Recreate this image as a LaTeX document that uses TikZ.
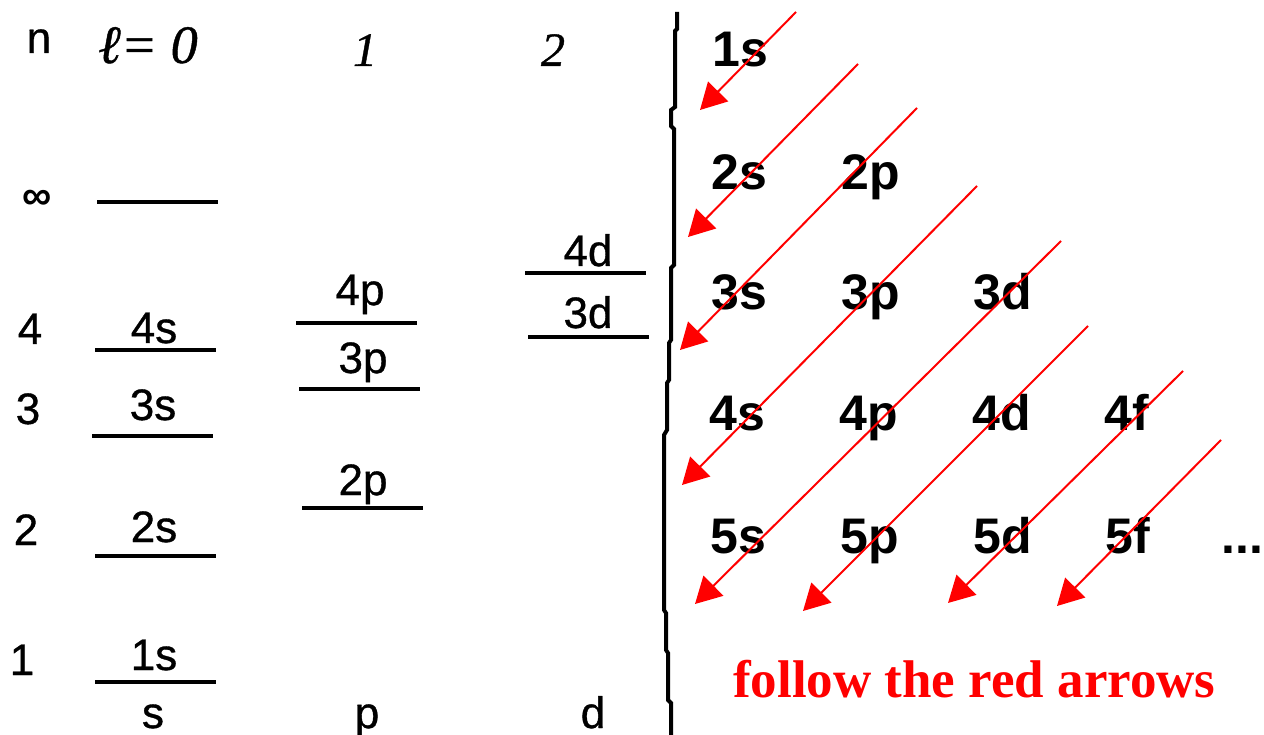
\documentclass[tikz,border=0pt]{standalone}
\usepackage{fontspec}
\setmainfont{Liberation Serif}
\newfontfamily\arial{Liberation Sans}
\newfontfamily\arialh[FakeBold=0.8]{Liberation Sans}
\newfontfamily\serifh[FakeBold=0.8]{Liberation Serif}
\usetikzlibrary{arrows.meta}
\begin{document}
\begin{tikzpicture}[x=1pt,y=-1pt,
  lvl/.style={line width=4pt},
  lab/.style={font=\arialh\fontsize{44}{44}\selectfont, inner sep=0pt, anchor=base},
  hdr/.style={font=\serifh\itshape\fontsize{48}{48}\selectfont, inner sep=0pt, anchor=base},
  big/.style={font=\arial\bfseries\fontsize{50}{50}\selectfont, inner sep=0pt, anchor=base west},
  redarrow/.style={draw=red, line width=2pt, -{Triangle[length=26pt,width=28pt]}}
]
\useasboundingbox (0,0) rectangle (1264,735);

% header row
\node[lab] (n) at (39,53) {n};
\node[hdr, font=\serifh\itshape\fontsize{54}{54}\selectfont] (l0) at (148,63) {ℓ= 0};
\node[hdr] (l1) at (365,66) {1};
\node[hdr] (l2) at (553,66) {2};

% n column
\node[font=\arial\bfseries\fontsize{41}{41}\selectfont, inner sep=0pt] (ninf) at (37,200) {∞};
\node[lab] (n4) at (30,344) {4};
\node[lab] (n3) at (28,424) {3};
\node[lab] (n2) at (26,545) {2};
\node[lab] (n1) at (22,675) {1};

% level lines
\draw[lvl] (97,202) -- (218,202);
\draw[lvl] (95,350) -- (216,350);
\draw[lvl] (92,436) -- (213,436);
\draw[lvl] (95,556) -- (216,556);
\draw[lvl] (95,682) -- (216,682);
\draw[lvl] (296,323) -- (417,323);
\draw[lvl] (299,389) -- (420,389);
\draw[lvl] (302,508) -- (423,508);
\draw[lvl] (525,273) -- (646,273);
\draw[lvl] (528,337) -- (649,337);

% level labels
\node[lab] (s4) at (154,343) {4s};
\node[lab] (s3) at (153,420) {3s};
\node[lab] (s2) at (154,542) {2s};
\node[lab] (s1) at (154,670) {1s};
\node[lab] (p4) at (360,305) {4p};
\node[lab] (p3) at (363,373) {3p};
\node[lab] (p2) at (363,495) {2p};
\node[lab] (d4) at (588,266) {4d};
\node[lab] (d3) at (588,328) {3d};

% bottom row
\node[lab] (bs) at (153,728) {s};
\node[lab] (bp) at (367,728) {p};
\node[lab] (bd) at (593,728) {d};

% divider
\draw[line width=4pt] (677,12) -- (677,29) -- (675,31) -- (675,107) -- (671,110) -- (671,126) -- (674,129)
  -- (674,265) -- (671,268) -- (671,340) -- (669,343) -- (669,380) -- (667,383) -- (667,430)
  -- (664,435) -- (664,610) -- (666,613) -- (666,650) -- (668,653) -- (668,700) -- (671,703) -- (671,735);

% right table
\node[big] (r1s) at (712,67) {1s};
\node[big] (r2s) at (711,190) {2s};
\node[big] (r2p) at (841,190) {2p};
\node[big] (r3s) at (711,310) {3s};
\node[big] (r3p) at (841,310) {3p};
\node[big] (r3d) at (973,310) {3d};
\node[big] (r4s) at (709,430) {4s};
\node[big] (r4p) at (839,430) {4p};
\node[big] (r4d) at (972,430) {4d};
\node[big] (r4f) at (1104,430) {4f};
\node[big] (r5s) at (710,553) {5s};
\node[big] (r5p) at (840,553) {5p};
\node[big] (r5d) at (973,553) {5d};
\node[big] (r5f) at (1105,553) {5f};
\node[big] (dots) at (1221,553) {...};

% arrows
\coordinate (a1) at (796,12);   \coordinate (b1) at (700,110);
\coordinate (a2) at (858,64);   \coordinate (b2) at (688,237);
\coordinate (a3) at (917,108);  \coordinate (b3) at (680,350);
\coordinate (a4) at (977,186);  \coordinate (b4) at (682,485);
\coordinate (a5) at (1061,241); \coordinate (b5) at (695,604);
\coordinate (a6) at (1088,326); \coordinate (b6) at (803,611);
\coordinate (a7) at (1183,371); \coordinate (b7) at (948,603);
\coordinate (a8) at (1221,440); \coordinate (b8) at (1057,606);
\foreach \i in {1,...,8} \draw[redarrow] (a\i) -- (b\i);

\node[font=\bfseries\fontsize{53}{53}\selectfont, text=red, inner sep=0pt, anchor=base west] (follow) at (733,697) {follow the red arrows};
\end{tikzpicture}
\end{document}
